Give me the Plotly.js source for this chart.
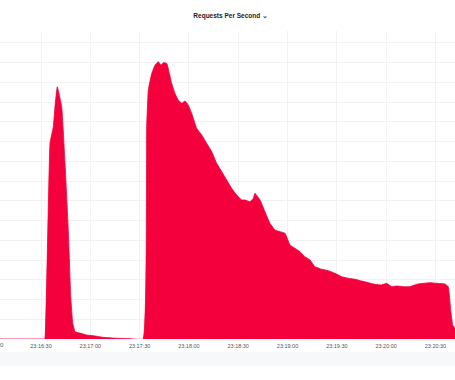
<!DOCTYPE html>
<html>
<head>
<meta charset="utf-8">
<script src="https://cdn.plot.ly/plotly-3.0.1.min.js"></script>
<style>
html,body{margin:0;padding:0;background:#fff;}
#chart{width:455px;height:380px;}
</style>
</head>
<body>
<div id="chart"></div>
<script>
// seconds after 23:16:00
const secondsAfter = [0, 20, 32, 32.4, 35.5, 37.5, 38.5, 39.9, 42.6, 44.6, 46.6, 48.1, 49.3, 50.7, 53.7, 57.8, 61.8, 67.7, 76.1, 84.2, 92.1,
  94.3, 95.3, 97.4, 99.4, 101.4, 103.0, 104.4, 106.5, 108.1, 109.5, 111.5, 113.5, 115.6, 117.6, 119.6, 121.7, 124.7, 127.8,
  130.8, 133.9, 136.9, 140.0, 143.0, 146.0, 149.1, 152.1, 154.1, 157.2, 159.2, 160.2, 163.3, 166.3, 169.3, 172.4, 175.4,
  178.5, 181.5, 184.5, 187.6, 190.6, 193.7, 196.7, 200.8, 204.8, 208.9, 213.0, 217.0, 221.1, 225.1, 229.2, 233.2, 237.3,
  240.3, 243.4, 246.4, 250.5, 254.5, 258.6, 262.6, 266.7, 270.8, 275.8, 277.8, 279.3, 280.5, 281.9, 285];
const requestsPerSecond = [0, 0, 0, 0, 198.5, 215, 235.2, 255.5, 235.2, 178.2, 110.4, 42.8, 16.2, 7.4, 6, 4, 3.3, 1.7, 0.7, 0.3, 0,
  215, 252.2, 269.1, 277.5, 280.8, 277.5, 279.8, 279.2, 269.1, 258.9, 248.8, 242, 238.7, 241, 237, 228.6, 213.4, 206.6,
  198.2, 189.7, 177.9, 169.4, 161, 152.6, 145.8, 140.8, 140.8, 139, 142.5, 147.5, 140.8, 128.9, 117.2, 110.4, 108.7,
  107, 95.2, 91.9, 88.4, 83.3, 80, 73.2, 70.6, 69.2, 66.5, 63.1, 61.5, 60.5, 58.7, 57, 55.4, 54.7,
  56.4, 53, 53.7, 53, 53, 55.4, 56.4, 57, 56.4, 55.7, 53, 29.4, 14.2, 11.1, 10];
const baseTime = "2024-01-01 23:16:00";
const titleText = "Requests Per Second <span style='color:#555'>\u2304</span>";

function toTime(s) {
  const d = new Date(2024, 0, 1, 23, 16, 0, 0);
  d.setTime(d.getTime() + Math.round(s * 1000));
  const p = n => String(n).padStart(2, "0");
  return d.getFullYear() + "-" + p(d.getMonth() + 1) + "-" + p(d.getDate()) + " " +
    p(d.getHours()) + ":" + p(d.getMinutes()) + ":" + p(d.getSeconds()) + "." + String(d.getMilliseconds()).padStart(3, "0");
}
const times = secondsAfter.map(toTime);

const trace = {
  x: times, y: requestsPerSecond, type: "scatter", mode: "lines",
  fill: "tozeroy", fillcolor: "#f4003c",
  line: {color: "#f4003c", width: 0.8, shape: "spline", smoothing: 0.3},
  hoverinfo: "x+y"
};

const layout = {
  width: 455, height: 380,
  margin: {l: 0, r: 0, t: 31, b: 41, pad: 0},
  paper_bgcolor: "#ffffff", plot_bgcolor: "#ffffff",
  showlegend: false,
  font: {family: "Liberation Sans, Arial, sans-serif", color: "#333"},
  title: {text: titleText, font: {size: 6.5, color: "#222", weight: 600},
    x: 0.507, xanchor: "center", y: 1 - 16 / 380, yanchor: "middle", yref: "container"},
  xaxis: {type: "date", range: [toTime(5.05), toTime(281.9)],
    dtick: 30000, tick0: baseTime, tickformat: "%H:%M:%S",
    showgrid: true, gridcolor: "#f2f2f2", gridwidth: 1,
    ticks: "outside", ticklen: 1, tickcolor: "rgba(0,0,0,0)",
    tickfont: {size: 5.5, color: "#555"}, zeroline: false, showline: false, fixedrange: true},
  yaxis: {range: [0, 311.9], dtick: 20, tick0: 0, showticklabels: false,
    showgrid: true, gridcolor: "#f2f2f2", gridwidth: 1, zeroline: false, showline: false, fixedrange: true},
  shapes: [
    {type: "rect", xref: "paper", yref: "paper", x0: 0, x1: 1, y0: -(352 - 339) / 308, y1: -(366 - 339) / 308,
      fillcolor: "#f7f8f9", line: {width: 0}, layer: "below"}
  ],
  annotations: [
    {xref: "paper", yref: "paper", x: -8 / 455, y: -(345 - 339) / 308, text: "23:16:00", showarrow: false,
      xanchor: "center", yanchor: "middle", font: {size: 5.5, color: "#555"}}
  ]
};

Plotly.newPlot("chart", [trace], layout, {displayModeBar: false, staticPlot: true});
</script>
</body>
</html>
